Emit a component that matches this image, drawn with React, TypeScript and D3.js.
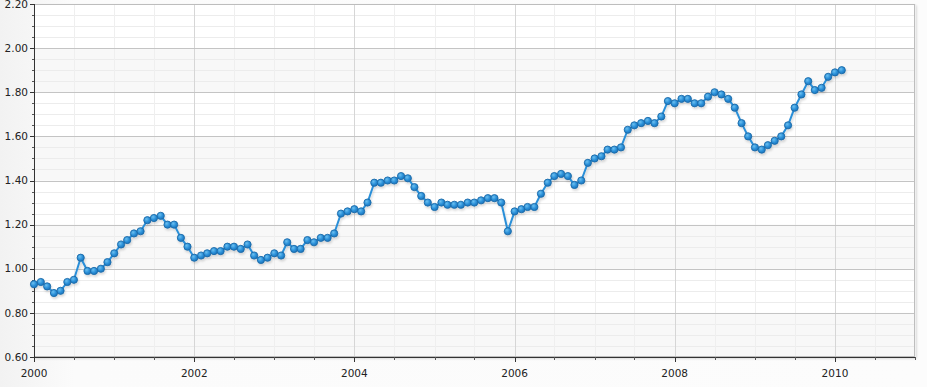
import React from "react";
import * as d3 from "d3";

const START_YEAR = 2000;
const START_MONTH = 0;
const values: number[] = [
  0.93, 0.94, 0.92, 0.89, 0.90, 0.94, 0.95, 1.05, 0.99, 0.99, 1.00, 1.03,
  1.07, 1.11, 1.13, 1.16, 1.17, 1.22, 1.23, 1.24, 1.20, 1.20, 1.14, 1.10,
  1.05, 1.06, 1.07, 1.08, 1.08, 1.10, 1.10, 1.09, 1.11, 1.06, 1.04, 1.05,
  1.07, 1.06, 1.12, 1.09, 1.09, 1.13, 1.12, 1.14, 1.14, 1.16, 1.25, 1.26,
  1.27, 1.26, 1.30, 1.39, 1.39, 1.40, 1.40, 1.42, 1.41, 1.37, 1.33, 1.30,
  1.28, 1.30, 1.29, 1.29, 1.29, 1.30, 1.30, 1.31, 1.32, 1.32, 1.30, 1.17,
  1.26, 1.27, 1.28, 1.28, 1.34, 1.39, 1.42, 1.43, 1.42, 1.38, 1.40, 1.48,
  1.50, 1.51, 1.54, 1.54, 1.55, 1.63, 1.65, 1.66, 1.67, 1.66, 1.69, 1.76,
  1.75, 1.77, 1.77, 1.75, 1.75, 1.78, 1.80, 1.79, 1.77, 1.73, 1.66, 1.60,
  1.55, 1.54, 1.56, 1.58, 1.60, 1.65, 1.73, 1.79, 1.85, 1.81, 1.82, 1.87,
  1.89, 1.90,
];
const yMajorTicks: number[] = [0.6, 0.8, 1.0, 1.2, 1.4, 1.6, 1.8, 2.0, 2.2];
const xLabelYears: number[] = [2000, 2002, 2004, 2006, 2008, 2010];

const W = 927;
const H = 387;
const M = { left: 34, top: 4, right: 12, bottom: 30 };

export default function App() {
  const pw = W - M.left - M.right;
  const ph = H - M.top - M.bottom;
  const x = d3
    .scaleTime()
    .domain([new Date(2000, 0, 1), new Date(2011, 0, 1)])
    .range([M.left, M.left + pw]);
  const y = d3.scaleLinear().domain([0.6, 2.2]).range([M.top + ph, M.top]);

  const data = values.map((v, i) => ({ d: new Date(START_YEAR, START_MONTH + i, 1), v }));

  const yMinor = d3.range(0, 33).map((i) => 0.6 + i * 0.05);
  const xMinor = d3.range(0, 23).map((i) => new Date(2000, i * 6, 1));
  const fmt = d3.format(".2f");

  const line = d3
    .line<{ d: Date; v: number }>()
    .x((p) => x(p.d))
    .y((p) => y(p.v));

  const bands = d3.range(0, yMajorTicks.length - 1).filter((i) => i % 2 === 0);

  return (
    <svg width={W} height={H} style={{ position: "absolute", left: 0, top: 0, display: "block" }}>
      <defs>
        <linearGradient id="bg" x1="0" y1="0" x2="1" y2="0">
          <stop offset="0" stopColor="#f2f2f2" />
          <stop offset="0.08" stopColor="#fbfbfb" />
          <stop offset="1" stopColor="#fcfcfc" />
        </linearGradient>
        <radialGradient id="mk" cx="0.38" cy="0.35" r="0.7">
          <stop offset="0" stopColor="#6cc0f0" />
          <stop offset="0.55" stopColor="#2a8fd8" />
          <stop offset="1" stopColor="#1c72b8" />
        </radialGradient>
        <filter id="sh" x="-5%" y="-5%" width="110%" height="110%">
          <feDropShadow dx="1.5" dy="1.5" stdDeviation="1" floodColor="#000" floodOpacity="0.18" />
        </filter>
        <filter id="lsh" x="-5%" y="-5%" width="110%" height="120%">
          <feDropShadow dx="1" dy="2" stdDeviation="1.2" floodColor="#000" floodOpacity="0.15" />
        </filter>
      </defs>
      <rect x={0} y={0} width={W} height={H} fill="url(#bg)" />
      <rect x={M.left} y={M.top} width={pw} height={ph} fill="#ffffff" filter="url(#sh)" />
      {bands.map((i) => (
        <rect
          key={"b" + i}
          x={M.left}
          y={y(yMajorTicks[i + 1])}
          width={pw}
          height={y(yMajorTicks[i]) - y(yMajorTicks[i + 1])}
          fill="#f8f8f8"
        />
      ))}
      {yMinor.map((v, i) => (
        <line key={"ym" + i} x1={M.left} x2={M.left + pw} y1={Math.round(y(v)) + 0.5} y2={Math.round(y(v)) + 0.5} stroke="#ececec" />
      ))}
      {xMinor.map((d, i) => (
        <line key={"xm" + i} x1={Math.round(x(d)) + 0.5} x2={Math.round(x(d)) + 0.5} y1={M.top} y2={M.top + ph} stroke="#efefef" />
      ))}
      {xLabelYears.map((yr) => (
        <line
          key={"xg" + yr}
          x1={Math.round(x(new Date(yr, 0, 1))) + 0.5}
          x2={Math.round(x(new Date(yr, 0, 1))) + 0.5}
          y1={M.top}
          y2={M.top + ph}
          stroke="#d6d6d6"
        />
      ))}
      {yMajorTicks.map((v) => (
        <line key={"yg" + v} x1={M.left} x2={M.left + pw} y1={Math.round(y(v)) + 0.5} y2={Math.round(y(v)) + 0.5} stroke="#c4c4c4" />
      ))}
      <rect x={M.left + 0.5} y={M.top + 0.5} width={pw - 1} height={ph - 1} fill="none" stroke="#bdbdbd" />
      {/* axes */}
      <line x1={M.left + 0.5} x2={M.left + 0.5} y1={M.top} y2={M.top + ph} stroke="#333" />
      <line x1={M.left} x2={M.left + pw} y1={M.top + ph + 0.5} y2={M.top + ph + 0.5} stroke="#333" />
      {yMinor.map((v, i) => (
        <line key={"ymt" + i} x1={M.left - 2} x2={M.left} y1={Math.round(y(v)) + 0.5} y2={Math.round(y(v)) + 0.5} stroke="#555" />
      ))}
      {yMajorTicks.map((v) => (
        <line key={"ymj" + v} x1={M.left - 4} x2={M.left} y1={Math.round(y(v)) + 0.5} y2={Math.round(y(v)) + 0.5} stroke="#333" />
      ))}
      {xMinor.map((d, i) => (
        <line key={"xmt" + i} x1={Math.round(x(d)) + 0.5} x2={Math.round(x(d)) + 0.5} y1={M.top + ph} y2={M.top + ph + 3} stroke="#555" />
      ))}
      {xLabelYears.map((yr) => (
        <line
          key={"xmj" + yr}
          x1={Math.round(x(new Date(yr, 0, 1))) + 0.5}
          x2={Math.round(x(new Date(yr, 0, 1))) + 0.5}
          y1={M.top + ph}
          y2={M.top + ph + 5}
          stroke="#333"
        />
      ))}
      {yMajorTicks.map((v) => (
        <text
          key={"yl" + v}
          x={M.left - 6}
          y={y(v)}
          dy="0.35em"
          textAnchor="end"
          fontFamily="'DejaVu Sans', Verdana, sans-serif"
          fontSize={10.5}
          fill="#222"
        >
          {fmt(v)}
        </text>
      ))}
      {xLabelYears.map((yr) => (
        <text
          key={"xl" + yr}
          x={x(new Date(yr, 0, 1))}
          y={M.top + ph + 20}
          textAnchor="middle"
          fontFamily="'DejaVu Sans', Verdana, sans-serif"
          fontSize={10.5}
          fill="#222"
        >
          {yr}
        </text>
      ))}
      <g filter="url(#lsh)">
        <path d={line(data) || ""} fill="none" stroke="#2a8fd8" strokeWidth={2} strokeLinejoin="round" />
        {data.map((p, i) => (
          <circle key={"c" + i} cx={x(p.d)} cy={y(p.v)} r={3.6} fill="url(#mk)" stroke="#1b6aa8" strokeWidth={0.9} />
        ))}
      </g>
    </svg>
  );
}
